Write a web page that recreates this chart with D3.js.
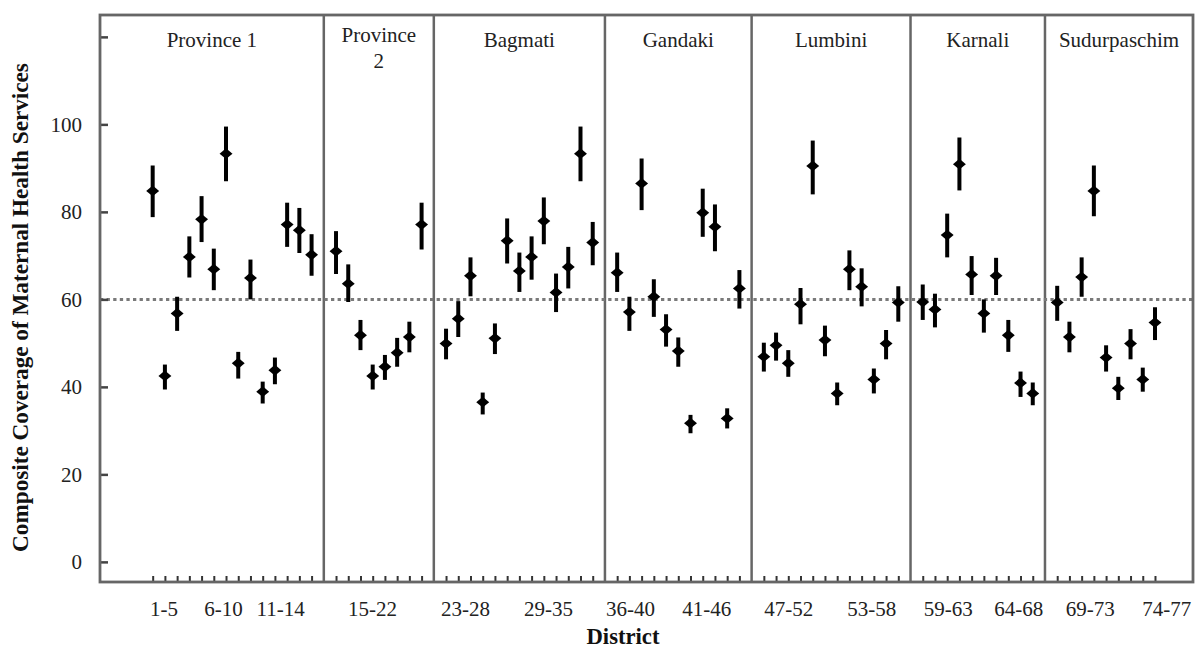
<!DOCTYPE html>
<html><head><meta charset="utf-8">
<script src="https://cdn.jsdelivr.net/npm/d3@7"></script>
<style>body{margin:0;background:#fff}svg{display:block}</style>
</head><body><svg id="c" width="1195" height="649"></svg>
<script>
// ---------- data ----------
const provinces = ["Province 1","Province 2","Bagmati","Gandaki","Lumbini","Karnali","Sudurpaschim"];
const provinceCounts = [14, 8, 13, 11, 12, 10, 9];
const means = [
  84.8,42.5,56.8,69.7,78.3,66.9,93.3,45.4,64.9,38.9,43.8,77.1,75.8,70.2,
  71.0,63.6,51.8,42.5,44.6,47.8,51.4,77.1,
  49.9,55.6,65.4,36.5,51.1,73.4,66.5,69.7,77.9,61.6,67.4,93.3,73.0,
  66.1,57.1,86.5,60.6,53.1,48.2,31.7,79.8,76.6,32.8,62.5,
  46.9,49.5,45.4,58.9,90.5,50.7,38.5,66.9,62.9,41.7,49.9,59.3,
  59.4,57.7,74.7,90.9,65.7,56.8,65.4,51.8,40.9,38.5,
  59.3,51.4,65.1,84.8,46.7,39.7,49.9,41.7,54.7
];
const lower = [
  78.8,39.4,52.8,65.0,73.1,62.1,87.0,41.9,60.0,36.2,40.6,72.0,70.6,65.4,
  65.8,59.4,48.4,39.4,41.6,44.6,47.9,71.4,
  46.3,51.4,60.7,33.7,47.5,68.2,61.7,64.5,72.6,57.1,62.5,87.0,67.8,
  61.7,52.8,80.4,56.0,49.2,44.6,29.4,74.3,71.0,30.5,57.9,
  43.5,46.0,42.3,54.3,84.0,47.0,35.8,62.1,58.4,38.5,46.3,54.9,
  55.3,53.6,69.6,84.9,61.0,52.4,61.0,48.0,37.7,35.8,
  55.1,47.9,60.6,79.0,43.5,37.0,46.3,38.9,50.7
];
const upper = [
  90.6,45.1,60.6,74.4,83.6,71.6,99.5,48.0,69.1,41.2,46.7,82.1,80.9,74.9,
  75.6,68.0,55.3,45.1,47.3,51.2,54.9,82.1,
  53.3,59.6,69.6,38.7,54.5,78.5,70.7,74.4,83.3,65.9,72.0,99.5,77.7,
  70.7,60.6,92.2,64.6,56.6,51.3,33.6,85.3,81.7,35.1,66.7,
  50.1,52.4,48.4,62.6,96.3,54.0,41.0,71.2,67.1,44.2,53.0,63.0,
  63.4,61.3,79.6,97.0,69.9,60.0,69.5,55.3,43.5,41.0,
  63.1,54.9,69.6,90.6,49.5,42.3,53.2,44.4,58.2
];
const yTickValues = [0, 20, 40, 60, 80, 100, 120];
const yTickLabels = ["0", "20", "40", "60", "80", "100", ""];
const xTickLabels = ["1-5","6-10","11-14","15-22","23-28","29-35","36-40","41-46","47-52","53-58","59-63","64-68","69-73","74-77"];
const xTickSlots = [1.88, 6.75, 11.42, 18.95, 26.56, 33.35, 40.06, 46.28, 52.99, 59.78, 66.04, 71.81, 77.66, 83.92];
const referenceValue = 60;
const yTitle = "Composite Coverage of Maternal Health Services";
const xTitle = "District";

// ---------- derived ----------
const points = [];
const provStart = [];
let d = 1;
provinceCounts.forEach((n, p) => {
  provStart.push(d + p);
  for (let k = 0; k < n; k++, d++) {
    const i = d - 1;
    points.push({district: d, slot: d + p, mean: means[i], lo: lower[i], hi: upper[i]});
  }
});

// ---------- layout ----------
const L = 100, R = 1193, T = 15, B = 582;
const FONT = "'Liberation Serif','DejaVu Serif',serif";
const svg = d3.select("#c");

const x = d3.scaleLinear().domain([-3.31, 86.11]).range([L, R]);
const y = d3.scaleLinear().domain([-4.6, 125]).range([B, T]);
const lineCol = "#666";

// province separators
const seps = provStart.slice(1).map(s => s - 1);
svg.append("g").selectAll("line").data(seps).join("line")
  .attr("x1", d => x(d)).attr("x2", d => x(d))
  .attr("y1", T).attr("y2", B)
  .attr("stroke", lineCol).attr("stroke-width", 2.5);

// reference line
svg.append("line")
  .attr("x1", L).attr("x2", R)
  .attr("y1", y(referenceValue)).attr("y2", y(referenceValue))
  .attr("stroke", "#7a7a7a").attr("stroke-width", 3)
  .attr("stroke-dasharray", "3.3,3.3");

// y axis (inward ticks)
const yAxis = d3.axisLeft(y).tickValues(yTickValues)
  .tickFormat((v, i) => yTickLabels[i]).tickSize(-8).tickPadding(18);
const gy = svg.append("g").attr("transform", `translate(${L},0)`).call(yAxis);
gy.select(".domain").remove();
gy.selectAll(".tick line").attr("stroke", "#444").attr("stroke-width", 2.5);
gy.selectAll(".tick text").attr("font-family", FONT).attr("font-size", 21).attr("fill", "#222");

// x axis minor ticks (one per district)
const xAxisTicks = d3.axisBottom(x).tickValues(points.map(p => p.slot))
  .tickFormat("").tickSize(-6);
const gx = svg.append("g").attr("transform", `translate(0,${B})`).call(xAxisTicks);
gx.select(".domain").remove();
gx.selectAll(".tick line").attr("stroke", "#333").attr("stroke-width", 2);

// x axis group labels
const xAxisLabels = d3.axisBottom(x).tickValues(xTickSlots)
  .tickFormat((v, i) => xTickLabels[i]).tickSize(0).tickPadding(19);
const gxl = svg.append("g").attr("transform", `translate(0,${B})`).call(xAxisLabels);
gxl.select(".domain").remove();
gxl.selectAll(".tick text").attr("font-family", FONT).attr("font-size", 21).attr("fill", "#222");

// frame
svg.append("rect").attr("x", L).attr("y", T).attr("width", R - L).attr("height", B - T)
  .attr("fill", "none").attr("stroke", lineCol).attr("stroke-width", 2.8);

// province labels
const provCenters = provStart.map((s, p) => {
  const a = p === 0 ? x.domain()[0] : s - 1;
  const b = p === provinces.length - 1 ? x.domain()[1] : provStart[p + 1] - 1;
  return (a + b) / 2;
});
const pl = svg.append("g").attr("font-family", FONT).attr("font-size", 21).attr("fill", "#222")
  .attr("text-anchor", "middle");
provinces.forEach((name, p) => {
  const parts = name === "Province 2" ? ["Province", "2"] : [name];
  const t = pl.append("text").attr("x", x(provCenters[p])).attr("y", parts.length > 1 ? 42 : 47);
  parts.forEach((s, k) => {
    t.append("tspan").attr("x", x(provCenters[p])).attr("dy", k === 0 ? 0 : 26).text(s);
  });
});

// error bars and markers
const g = svg.append("g");
g.selectAll("line.err").data(points).join("line").attr("class", "err")
  .attr("x1", d => x(d.slot)).attr("x2", d => x(d.slot))
  .attr("y1", d => y(d.lo)).attr("y2", d => y(d.hi))
  .attr("stroke", "#000").attr("stroke-width", 4);
const sym = d3.symbol(d3.symbolSquare, 58)();
g.selectAll("path.pt").data(points).join("path").attr("class", "pt")
  .attr("d", sym)
  .attr("transform", d => `translate(${x(d.slot)},${y(d.mean)}) scale(1.2,1) rotate(45)`)
  .attr("fill", "#000");

// axis titles
const yt = svg.append("text").text(yTitle)
  .attr("font-family", FONT).attr("font-weight", "bold").attr("font-size", 20)
  .attr("fill", "#111").attr("text-anchor", "middle")
  .attr("transform", `translate(28,307.5) rotate(-90)`);
const ytl = yt.node().getComputedTextLength();
yt.attr("font-size", 20 * 489 / ytl);

const xt = svg.append("text").text(xTitle)
  .attr("font-family", FONT).attr("font-weight", "bold").attr("font-size", 20)
  .attr("fill", "#111").attr("text-anchor", "middle")
  .attr("x", 623).attr("y", 644);
const xtl = xt.node().getComputedTextLength();
xt.attr("font-size", 20 * 73 / xtl);
</script>
</body></html>
